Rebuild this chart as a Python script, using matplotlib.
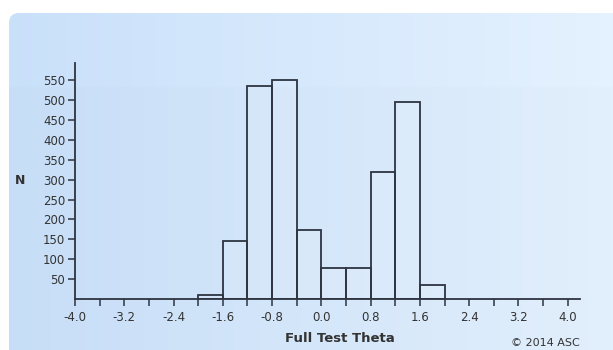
import matplotlib
matplotlib.use("Agg")
import matplotlib.pyplot as plt
import numpy as np
from matplotlib.patches import FancyBboxPatch

plt.rcParams['font.family'] = ['DejaVu Sans']

# histogram data
bin_edges = [-2.0, -1.6, -1.2, -0.8, -0.4, 0.0, 0.4, 0.8, 1.2, 1.6, 2.0]
counts = [11, 145, 534, 551, 174, 78, 78, 319, 494, 34]
y_ticks = [50, 100, 150, 200, 250, 300, 350, 400, 450, 500, 550]
x_ticks = [-4.0, -3.2, -2.4, -1.6, -0.8, 0.0, 0.8, 1.6, 2.4, 3.2, 4.0]

W, H = 613, 350
fig = plt.figure(figsize=(W / 100, H / 100), dpi=100)
fig.patch.set_facecolor('white')

# background panel with soft blue gradient
bg = fig.add_axes([0, 0, 1, 1])
bg.set_xlim(0, W)
bg.set_ylim(H, 0)
bg.axis('off')
gx = np.linspace(0, 1, 256)
c_left = np.array([0.78, 0.87, 0.97])
c_right = np.array([0.89, 0.94, 0.99])
grad = c_left[None, :] * (1 - gx[:, None]) + c_right[None, :] * gx[:, None]
img = np.tile(grad[None, :, :], (64, 1, 1))
# faintly lighter top band
img[:14] = np.clip(img[:14] + 0.01, 0, 1)
panel = FancyBboxPatch((9, 13), W + 20, H, boxstyle="round,pad=0,rounding_size=10",
                       facecolor='none', edgecolor='none')
bg.add_patch(panel)
im = bg.imshow(img, extent=(9, W + 20, H, 13), aspect='auto', zorder=0)
im.set_clip_path(panel)

ax = fig.add_axes([75 / W, 1 - 299 / H, (580 - 75) / W, (299 - 63) / H])
ax.patch.set_alpha(0)
ax.hist(bin_edges[:-1], bins=bin_edges, weights=counts, histtype='bar',
        facecolor=(1, 1, 1, 0.1), edgecolor='#2e3440', linewidth=1.3)

ax.set_xlim(-4.0, 4.2)
ax.set_ylim(0, 593)
ax.set_xticks(x_ticks)
ax.set_xticklabels([f"{t:.1f}" for t in x_ticks])
ax.set_xticks(np.arange(-3.6, 4.2, 0.8), minor=True)
ax.set_yticks(y_ticks)

for s in ['top', 'right']:
    ax.spines[s].set_visible(False)
for s in ['left', 'bottom']:
    ax.spines[s].set_color('#2e3440')
    ax.spines[s].set_linewidth(1.3)

ax.tick_params(axis='both', which='both', direction='out', color='#2e3440',
               width=1.1, labelsize=8.5, labelcolor='#333333')
ax.tick_params(axis='x', which='major', length=5, pad=3.5)
ax.tick_params(axis='x', which='minor', length=5)
ax.tick_params(axis='y', length=5, pad=2)

fig.text(20 / W, 1 - 181 / H, 'N', fontsize=9, fontweight='bold',
         color='#333333', ha='center', va='center')
fig.text(340 / W, 1 - 338 / H, 'Full Test Theta', fontsize=9.5, fontweight='bold',
         color='#333333', ha='center', va='center')
fig.text(580 / W, 1 - 343 / H, '\u00a9 2014 ASC', fontsize=8,
         color='#333333', ha='right', va='center')

fig.savefig('out.png', dpi=100)
